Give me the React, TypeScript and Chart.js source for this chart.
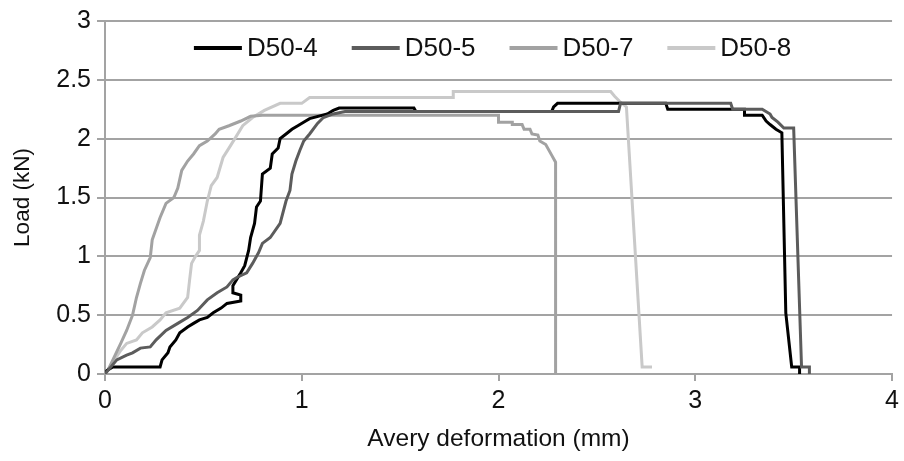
import React, { useEffect, useRef } from 'react';
import { Chart, registerables } from 'chart.js';

Chart.register(...registerables);

const seriesNames = ['D50-4', 'D50-5', 'D50-7', 'D50-8'];
const seriesColors = ['#000000', '#5c5c5c', '#a2a2a2', '#c9c9c9'];

const d504X = [0, 0.01, 0.04, 0.28, 0.29, 0.32, 0.33, 0.36, 0.38, 0.42, 0.45, 0.48, 0.52, 0.55, 0.59, 0.62, 0.69, 0.69, 0.65, 0.65, 0.69, 0.71, 0.73, 0.74, 0.76, 0.77, 0.79, 0.80, 0.84, 0.85, 0.88, 0.89, 0.92, 0.95, 0.98, 1.02, 1.04, 1.13, 1.16, 1.19, 1.57, 1.58, 2.27, 2.28, 2.30, 2.85, 2.86, 3.25, 3.25, 3.34, 3.36, 3.38, 3.41, 3.44, 3.46, 3.49, 3.53, 3.53];
const d504Y = [0, 0.03, 0.06, 0.06, 0.12, 0.18, 0.23, 0.29, 0.35, 0.40, 0.43, 0.46, 0.48, 0.52, 0.56, 0.60, 0.62, 0.67, 0.69, 0.75, 0.86, 0.92, 1.05, 1.16, 1.28, 1.42, 1.47, 1.70, 1.75, 1.87, 1.92, 2.00, 2.04, 2.08, 2.11, 2.15, 2.17, 2.21, 2.24, 2.26, 2.26, 2.23, 2.23, 2.27, 2.30, 2.30, 2.25, 2.25, 2.20, 2.20, 2.15, 2.12, 2.08, 2.05, 0.52, 0.06, 0.06, 0];

const d505X = [0, 0.01, 0.06, 0.11, 0.14, 0.18, 0.23, 0.26, 0.31, 0.37, 0.42, 0.47, 0.52, 0.57, 0.62, 0.65, 0.67, 0.72, 0.75, 0.78, 0.80, 0.84, 0.89, 0.92, 0.94, 0.95, 0.97, 0.99, 1.01, 1.04, 1.08, 1.11, 1.16, 1.22, 2.61, 2.62, 3.18, 3.19, 3.34, 3.38, 3.39, 3.42, 3.45, 3.50, 3.54, 3.58, 3.58];
const d505Y = [0, 0.02, 0.12, 0.16, 0.18, 0.22, 0.23, 0.29, 0.37, 0.43, 0.48, 0.54, 0.63, 0.69, 0.74, 0.80, 0.82, 0.86, 0.94, 1.03, 1.11, 1.16, 1.28, 1.47, 1.56, 1.70, 1.81, 1.90, 1.98, 2.04, 2.13, 2.18, 2.21, 2.23, 2.23, 2.30, 2.30, 2.25, 2.25, 2.21, 2.18, 2.14, 2.09, 2.09, 0.06, 0.06, 0];

const d507X = [0, 0.02, 0.04, 0.08, 0.11, 0.14, 0.16, 0.18, 0.20, 0.23, 0.24, 0.28, 0.31, 0.35, 0.37, 0.39, 0.42, 0.45, 0.48, 0.52, 0.56, 0.58, 0.63, 0.69, 0.74, 0.80, 2.00, 2.00, 2.07, 2.07, 2.12, 2.13, 2.16, 2.17, 2.20, 2.21, 2.24, 2.27, 2.29, 2.29];
const d507Y = [0, 0.05, 0.12, 0.26, 0.37, 0.50, 0.65, 0.77, 0.88, 0.99, 1.14, 1.33, 1.45, 1.50, 1.58, 1.73, 1.81, 1.87, 1.94, 1.98, 2.04, 2.08, 2.11, 2.15, 2.19, 2.20, 2.20, 2.14, 2.14, 2.12, 2.12, 2.08, 2.08, 2.04, 2.03, 1.98, 1.95, 1.86, 1.80, 0];

const d508X = [0, 0.01, 0.04, 0.08, 0.11, 0.16, 0.19, 0.24, 0.28, 0.31, 0.38, 0.42, 0.43, 0.44, 0.46, 0.48, 0.48, 0.50, 0.52, 0.54, 0.57, 0.60, 0.63, 0.66, 0.70, 0.75, 0.81, 0.89, 1.00, 1.04, 1.77, 1.77, 2.57, 2.59, 2.62, 2.65, 2.73, 2.78];
const d508Y = [0, 0.02, 0.10, 0.20, 0.26, 0.29, 0.35, 0.40, 0.46, 0.52, 0.56, 0.65, 0.80, 0.94, 1.00, 1.05, 1.18, 1.30, 1.47, 1.60, 1.67, 1.84, 1.92, 2.00, 2.11, 2.18, 2.24, 2.30, 2.30, 2.35, 2.35, 2.40, 2.40, 2.36, 2.31, 2.27, 0.06, 0.06];

const xTickValues = [0, 1, 2, 3, 4];
const yTickValues = [0, 0.5, 1, 1.5, 2, 2.5, 3];

const xTitle = 'Avery deformation (mm)';
const yTitle = 'Load (kN)';

const FONT = '"Liberation Sans", Arial, sans-serif';
const GRID = '#a3a3a3';

const seriesX = [d504X, d505X, d507X, d508X];
const seriesY = [d504Y, d505Y, d507Y, d508Y];
const seriesOrder = [1, 0, 2, 3];

const insideLegend = {
  id: 'insideLegend',
  afterDraw(chart: any) {
    const { ctx, chartArea } = chart;
    ctx.save();
    ctx.font = `26px ${FONT}`;
    const lineLen = 48;
    const gap = 5;
    const itemGap = 34;
    const widths = seriesNames.map((n) => ctx.measureText(n).width);
    const total = widths.reduce((a, w) => a + lineLen + gap + w, 0) + itemGap * (seriesNames.length - 1);
    let x = (chartArea.left + chartArea.right) / 2 - total / 2 - 6;
    const y = chartArea.top + 27;
    ctx.textBaseline = 'middle';
    ctx.textAlign = 'left';
    seriesNames.forEach((name, i) => {
      ctx.strokeStyle = seriesColors[i];
      ctx.lineWidth = 4;
      ctx.beginPath();
      ctx.moveTo(x, y);
      ctx.lineTo(x + lineLen, y);
      ctx.stroke();
      x += lineLen + gap;
      ctx.fillStyle = '#111';
      ctx.fillText(name, x, y + 1);
      x += widths[i] + itemGap;
    });
    ctx.restore();
  },
};

export default function App() {
  const ref = useRef<HTMLCanvasElement | null>(null);
  useEffect(() => {
    if (!ref.current) return;
    const chart = new Chart(ref.current, {
      type: 'scatter',
      data: {
        datasets: seriesNames.map((name, i) => ({
          label: name,
          data: seriesX[i].map((x, j) => ({ x, y: seriesY[i][j] })),
          showLine: true,
          borderColor: seriesColors[i],
          backgroundColor: seriesColors[i],
          borderWidth: 3,
          pointRadius: 0,
          pointHoverRadius: 0,
          tension: 0,
          order: seriesOrder[i],
          borderJoinStyle: 'miter' as const,
        })),
      },
      options: {
        animation: false,
        responsive: false,
        devicePixelRatio: 1,
        layout: { padding: { left: 0, right: 11, top: 20, bottom: 0 } },
        plugins: {
          legend: { display: false },
          tooltip: { enabled: false },
        },
        scales: {
          x: {
            type: 'linear',
            min: 0,
            max: 4,
            afterBuildTicks: (s: any) => {
              s.ticks = xTickValues.map((v) => ({ value: v }));
            },
            afterFit: (s: any) => {
              s.height = 87;
            },
            grid: { drawOnChartArea: false, drawTicks: true, tickLength: 7, color: GRID, lineWidth: 2 },
            border: { display: true, color: GRID, width: 2 },
            ticks: { color: '#111', font: { family: FONT, size: 25 }, padding: 5, maxRotation: 0, callback: (v: any) => String(v) },
            title: { display: true, text: xTitle, color: '#111', font: { family: FONT, size: 24.5 }, padding: { top: 0, bottom: 7 } },
          },
          y: {
            type: 'linear',
            min: 0,
            max: 3,
            afterBuildTicks: (s: any) => {
              s.ticks = yTickValues.map((v) => ({ value: v }));
            },
            afterFit: (s: any) => {
              s.width = 105;
            },
            grid: { drawTicks: true, tickLength: 8, color: GRID, lineWidth: 2 },
            border: { display: true, color: GRID, width: 2 },
            ticks: { color: '#111', font: { family: FONT, size: 25 }, padding: 6, callback: (v: any) => String(v) },
            title: { display: true, text: yTitle, color: '#111', font: { family: FONT, size: 22.5 }, padding: { top: 9, bottom: 0 } },
          },
        },
      },
      plugins: [insideLegend],
    });
    return () => chart.destroy();
  }, []);
  return (
    <div style={{ position: 'absolute', left: 0, top: 0, width: 904, height: 461, background: '#fff' }}>
      <canvas ref={ref} width={904} height={461} style={{ width: 904, height: 461, display: 'block' }} />
    </div>
  );
}
